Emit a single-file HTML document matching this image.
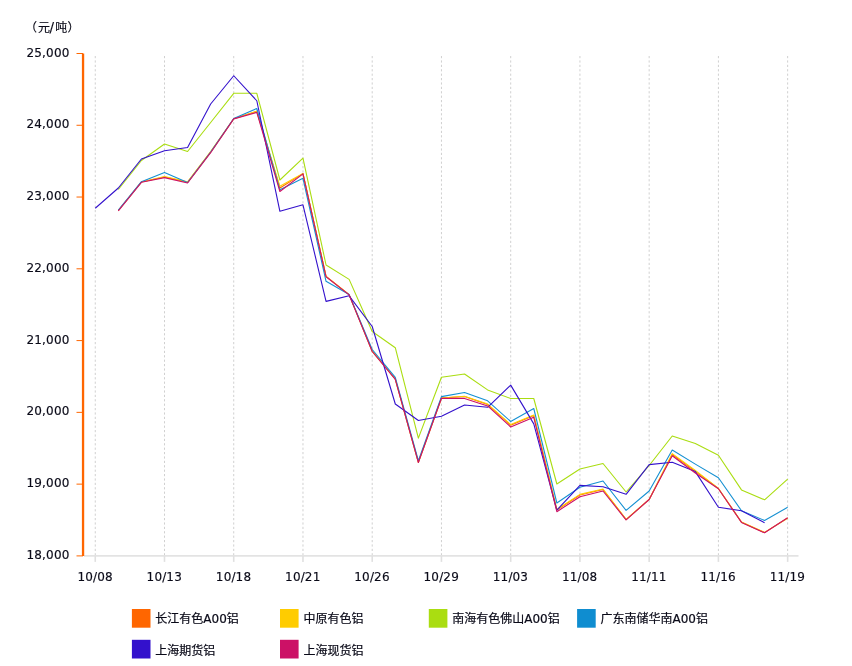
<!DOCTYPE html>
<html><head><meta charset="utf-8"><title>铝价走势</title>
<style>
html,body{margin:0;padding:0;background:#fff;}
body{width:852px;height:666px;overflow:hidden;position:relative;font-family:"DejaVu Sans","Liberation Sans","Noto Sans CJK SC",sans-serif;}
svg{position:absolute;left:0;top:0;display:block}
svg text{font-family:"DejaVu Sans","Liberation Sans","Noto Sans CJK SC",sans-serif;font-size:12px;fill:#0a0a18;stroke:#0a0a18;stroke-width:0.15px}
svg text.lg{stroke:#0a0a18;stroke-width:0.2px}
svg text.cj{font-family:"Liberation Sans","Noto Sans CJK SC",sans-serif;font-size:12px}
</style></head><body>
<svg width="852" height="666" viewBox="0 0 852 666">
<line x1="95.25" y1="56" x2="95.25" y2="555" stroke="#d0d0d0" stroke-width="1" stroke-dasharray="2.2 2.2"/>
<line x1="164.49" y1="56" x2="164.49" y2="555" stroke="#d0d0d0" stroke-width="1" stroke-dasharray="2.2 2.2"/>
<line x1="233.73" y1="56" x2="233.73" y2="555" stroke="#d0d0d0" stroke-width="1" stroke-dasharray="2.2 2.2"/>
<line x1="302.97" y1="56" x2="302.97" y2="555" stroke="#d0d0d0" stroke-width="1" stroke-dasharray="2.2 2.2"/>
<line x1="372.21" y1="56" x2="372.21" y2="555" stroke="#d0d0d0" stroke-width="1" stroke-dasharray="2.2 2.2"/>
<line x1="441.45" y1="56" x2="441.45" y2="555" stroke="#d0d0d0" stroke-width="1" stroke-dasharray="2.2 2.2"/>
<line x1="510.69" y1="56" x2="510.69" y2="555" stroke="#d0d0d0" stroke-width="1" stroke-dasharray="2.2 2.2"/>
<line x1="579.93" y1="56" x2="579.93" y2="555" stroke="#d0d0d0" stroke-width="1" stroke-dasharray="2.2 2.2"/>
<line x1="649.17" y1="56" x2="649.17" y2="555" stroke="#d0d0d0" stroke-width="1" stroke-dasharray="2.2 2.2"/>
<line x1="718.41" y1="56" x2="718.41" y2="555" stroke="#d0d0d0" stroke-width="1" stroke-dasharray="2.2 2.2"/>
<line x1="787.65" y1="56" x2="787.65" y2="555" stroke="#d0d0d0" stroke-width="1" stroke-dasharray="2.2 2.2"/>
<line x1="84" y1="555.9" x2="798.5" y2="555.9" stroke="#e3e3e3" stroke-width="1.7"/>
<line x1="95.25" y1="555.9" x2="95.25" y2="561.9" stroke="#e0e0e0" stroke-width="1.6"/>
<line x1="164.49" y1="555.9" x2="164.49" y2="561.9" stroke="#e0e0e0" stroke-width="1.6"/>
<line x1="233.73" y1="555.9" x2="233.73" y2="561.9" stroke="#e0e0e0" stroke-width="1.6"/>
<line x1="302.97" y1="555.9" x2="302.97" y2="561.9" stroke="#e0e0e0" stroke-width="1.6"/>
<line x1="372.21" y1="555.9" x2="372.21" y2="561.9" stroke="#e0e0e0" stroke-width="1.6"/>
<line x1="441.45" y1="555.9" x2="441.45" y2="561.9" stroke="#e0e0e0" stroke-width="1.6"/>
<line x1="510.69" y1="555.9" x2="510.69" y2="561.9" stroke="#e0e0e0" stroke-width="1.6"/>
<line x1="579.93" y1="555.9" x2="579.93" y2="561.9" stroke="#e0e0e0" stroke-width="1.6"/>
<line x1="649.17" y1="555.9" x2="649.17" y2="561.9" stroke="#e0e0e0" stroke-width="1.6"/>
<line x1="718.41" y1="555.9" x2="718.41" y2="561.9" stroke="#e0e0e0" stroke-width="1.6"/>
<line x1="787.65" y1="555.9" x2="787.65" y2="561.9" stroke="#e0e0e0" stroke-width="1.6"/>
<line x1="83.05" y1="53.5" x2="83.05" y2="555.9" stroke="#ff6600" stroke-width="2.3"/>
<line x1="76.5" y1="53.5" x2="83" y2="53.5" stroke="#ff6600" stroke-width="1"/>
<text x="69.65" y="56.55" text-anchor="end" letter-spacing="0.2">25,000</text>
<line x1="76.5" y1="125.27" x2="83" y2="125.27" stroke="#ff6600" stroke-width="1"/>
<text x="69.65" y="128.32" text-anchor="end" letter-spacing="0.2">24,000</text>
<line x1="76.5" y1="197.04" x2="83" y2="197.04" stroke="#ff6600" stroke-width="1"/>
<text x="69.65" y="200.09" text-anchor="end" letter-spacing="0.2">23,000</text>
<line x1="76.5" y1="268.81" x2="83" y2="268.81" stroke="#ff6600" stroke-width="1"/>
<text x="69.65" y="271.86" text-anchor="end" letter-spacing="0.2">22,000</text>
<line x1="76.5" y1="340.59" x2="83" y2="340.59" stroke="#ff6600" stroke-width="1"/>
<text x="69.65" y="343.64" text-anchor="end" letter-spacing="0.2">21,000</text>
<line x1="76.5" y1="412.36" x2="83" y2="412.36" stroke="#ff6600" stroke-width="1"/>
<text x="69.65" y="415.41" text-anchor="end" letter-spacing="0.2">20,000</text>
<line x1="76.5" y1="484.13" x2="83" y2="484.13" stroke="#ff6600" stroke-width="1"/>
<text x="69.65" y="487.18" text-anchor="end" letter-spacing="0.2">19,000</text>
<line x1="76.5" y1="555.9" x2="83" y2="555.9" stroke="#ff6600" stroke-width="1"/>
<text x="69.65" y="558.95" text-anchor="end" letter-spacing="0.2">18,000</text>
<text x="95.05" y="581" text-anchor="middle" letter-spacing="0.15">10/08</text>
<text x="164.29" y="581" text-anchor="middle" letter-spacing="0.15">10/13</text>
<text x="233.53" y="581" text-anchor="middle" letter-spacing="0.15">10/18</text>
<text x="302.77" y="581" text-anchor="middle" letter-spacing="0.15">10/21</text>
<text x="372.01" y="581" text-anchor="middle" letter-spacing="0.15">10/26</text>
<text x="441.25" y="581" text-anchor="middle" letter-spacing="0.15">10/29</text>
<text x="510.49" y="581" text-anchor="middle" letter-spacing="0.15">11/03</text>
<text x="579.73" y="581" text-anchor="middle" letter-spacing="0.15">11/08</text>
<text x="648.97" y="581" text-anchor="middle" letter-spacing="0.15">11/11</text>
<text x="718.21" y="581" text-anchor="middle" letter-spacing="0.15">11/16</text>
<text x="787.45" y="581" text-anchor="middle" letter-spacing="0.15">11/19</text>
<text y="32"><tspan x="24.9">（</tspan><tspan x="37.9">元</tspan><tspan x="49.6" font-size="13.5">/</tspan><tspan x="55.2">吨</tspan><tspan x="67.5">）</tspan></text>
<path d="M118.33 210.5 L141.41 182 L164.49 177 L187.57 182.3 L210.65 152 L233.73 118.7 L256.81 111.3 L279.89 188 L302.97 173.6 L326.05 276.4 L349.13 294.6 L372.21 351.2 L395.29 379 L418.37 462.3 L441.45 398 L464.53 396.5 L487.61 404.5 L510.69 425.2 L533.77 415.6 L556.85 510 L579.93 495 L603.01 489.5 L626.09 519.6 L649.17 499.4 L672.25 454.5 L695.33 471.4 L718.41 488.5 L741.49 522.3 L764.57 532.6 L787.65 517.9" fill="none" stroke="#ff6600" stroke-width="1.1" stroke-linejoin="round"/>
<path d="M118.33 210.5 L141.41 182 L164.49 176.6 L187.57 181.8 L210.65 151.6 L233.73 118.7 L256.81 111.3 L279.89 186.3 L302.97 173.6 L326.05 276.4 L349.13 294.6 L372.21 351.2 L395.29 379 L418.37 462.3 L441.45 398 L464.53 396.2 L487.61 404.1 L510.69 424.6 L533.77 415 L556.85 509.5 L579.93 494.4 L603.01 489 L626.09 519.4 L649.17 499.4 L672.25 453.6 L695.33 470.5 L718.41 488.5 L741.49 522 L764.57 532.4 L787.65 518.2" fill="none" stroke="#ffcc00" stroke-width="1.1" stroke-linejoin="round"/>
<path d="M118.33 189.5 L141.41 160.5 L164.49 144 L187.57 151.5 L210.65 122.5 L233.73 93.3 L256.81 93.3 L279.89 180 L302.97 158.2 L326.05 265 L349.13 279.4 L372.21 331.5 L395.29 347.7 L418.37 438.1 L441.45 377.3 L464.53 374 L487.61 389.9 L510.69 398.5 L533.77 398.5 L556.85 484 L579.93 469 L603.01 463.5 L626.09 492 L649.17 465.5 L672.25 436 L695.33 443.5 L718.41 455.3 L741.49 489.9 L764.57 499.8 L787.65 479.2" fill="none" stroke="#aadd11" stroke-width="1.1" stroke-linejoin="round"/>
<path d="M118.33 210 L141.41 181.7 L164.49 172.5 L187.57 182.5 L210.65 152 L233.73 118.5 L256.81 108.5 L279.89 189.8 L302.97 178.3 L326.05 281.3 L349.13 294.6 L372.21 349.5 L395.29 377.3 L418.37 460.7 L441.45 396.6 L464.53 392.5 L487.61 400.8 L510.69 421.5 L533.77 408.5 L556.85 503 L579.93 487.3 L603.01 481 L626.09 510.4 L649.17 491 L672.25 450 L695.33 464.1 L718.41 477.8 L741.49 510.7 L764.57 520.5 L787.65 507.3" fill="none" stroke="#1590d2" stroke-width="1.1" stroke-linejoin="round"/>
<path d="M95.25 208.25 L118.33 188 L141.41 159 L164.49 150.75 L187.57 147.5 L210.65 104 L233.73 75.75 L256.81 100.75 L279.89 211.3 L302.97 204.8 L326.05 301.4 L349.13 295.8 L372.21 326.5 L395.29 404 L418.37 420.5 L441.45 416.2 L464.53 405 L487.61 407.3 L510.69 385.1 L533.77 423.9 L556.85 510.2 L579.93 485.4 L603.01 486.8 L626.09 494.3 L649.17 464.6 L672.25 462.3 L695.33 471.6 L718.41 507.3 L741.49 510.7 L764.57 522.7" fill="none" stroke="#3311cc" stroke-width="1.1" stroke-linejoin="round"/>
<path d="M118.33 210.8 L141.41 182.3 L164.49 177.6 L187.57 183 L210.65 152.7 L233.73 118.9 L256.81 112.4 L279.89 191.5 L302.97 173.9 L326.05 276.8 L349.13 294.9 L372.21 351.5 L395.29 379.3 L418.37 462.5 L441.45 398.3 L464.53 398.4 L487.61 405.9 L510.69 427 L533.77 417.3 L556.85 511.7 L579.93 496.7 L603.01 491 L626.09 519.9 L649.17 499.5 L672.25 455.7 L695.33 473 L718.41 488.7 L741.49 522.4 L764.57 532.8 L787.65 517.7" fill="none" stroke="#cc1166" stroke-width="1.1" stroke-linejoin="round"/>
<rect x="131.9" y="609.0" width="18.6" height="18.7" fill="#ff6600"/>
<text class="lg" x="155.3" y="623.3">长江有色A00铝</text>
<rect x="280" y="609.0" width="18.6" height="18.7" fill="#ffcc00"/>
<text class="lg" x="303.4" y="623.3">中原有色铝</text>
<rect x="428.8" y="609.0" width="18.6" height="18.7" fill="#aadd11"/>
<text class="lg" x="452.2" y="623.3">南海有色佛山A00铝</text>
<rect x="577.1" y="609.0" width="18.6" height="18.7" fill="#0f8dd0"/>
<text class="lg" x="600.5" y="623.3">广东南储华南A00铝</text>
<rect x="131.9" y="639.8" width="18.6" height="18.7" fill="#3311cc"/>
<text class="lg" x="155.3" y="655.2">上海期货铝</text>
<rect x="280" y="639.8" width="18.6" height="18.7" fill="#cc1166"/>
<text class="lg" x="303.4" y="655.2">上海现货铝</text>
</svg></body></html>
